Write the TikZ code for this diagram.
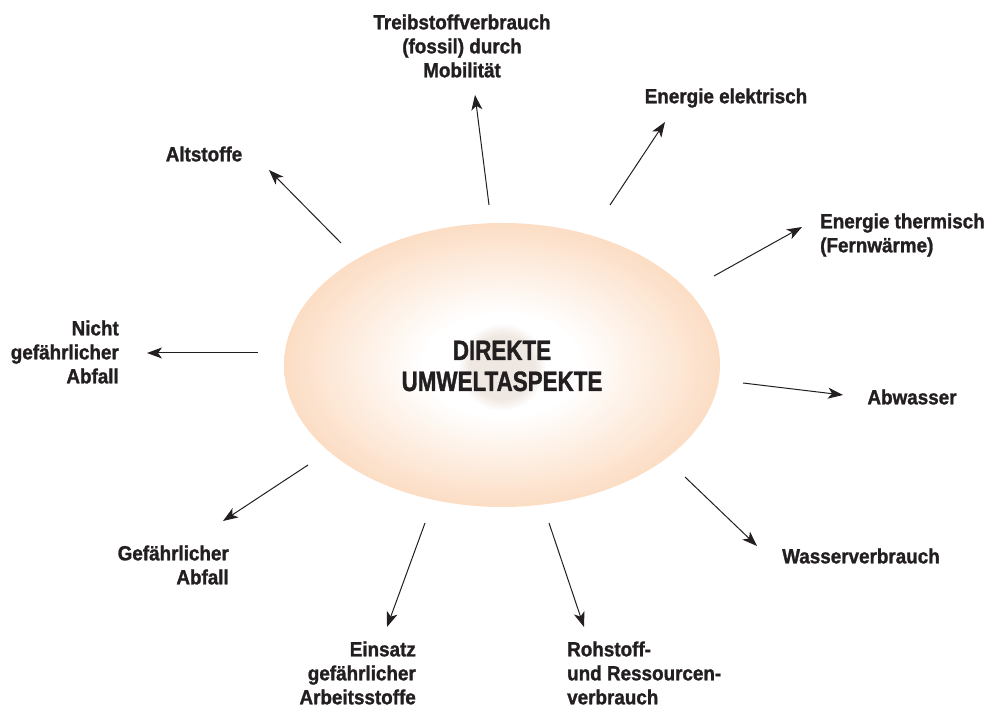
\documentclass[tikz,border=0pt]{standalone}
\usepackage{fontspec}
\setmainfont{Liberation Sans}
\newfontfamily\labfont[FakeStretch=0.92,FakeBold=1.3]{Liberation Sans Bold}
\newfontfamily\cenfont[FakeStretch=0.8,FakeBold=1.3]{Liberation Sans Bold}
\usetikzlibrary{arrows.meta}
\definecolor{peach}{RGB}{252,221,196}
\definecolor{inkc}{RGB}{35,31,32}
\definecolor{coregray}{RGB}{239,231,225}
\pgfdeclareradialshading{ellshade}{\pgfpoint{0bp}{0bp}}{color(0bp)=(white); color(9bp)=(white); color(25bp)=(peach); color(50bp)=(peach)}
\pgfdeclareradialshading{coreshade}{\pgfpoint{0bp}{0bp}}{color(0bp)=(coregray); color(18bp)=(coregray); color(25bp)=(white); color(50bp)=(white)}
\tikzset{
  lab/.style={font=\labfont\fontsize{20.5}{24}\selectfont, inner sep=0pt, text=inkc},
  arr/.style={line width=1pt, draw=inkc, -{Stealth[length=15pt,width=11pt,inset=4pt]}},
}
\begin{document}
\begin{tikzpicture}[x=1pt,y=-1pt]
\useasboundingbox (0,0) rectangle (991,711);
% ellipse
\path[shading=ellshade] (502,365) ellipse [x radius=218pt, y radius=142pt];
\path[shading=coreshade] (502,367) circle [radius=44pt];
\node[font=\cenfont\fontsize{28}{31}\selectfont, align=center, inner sep=0pt, text=inkc] (core) at (502,366) {DIREKTE\\UMWELTASPEKTE};

% labels
\node[lab, align=center] (treib) at (462,46) {Treibstoffverbrauch\\(fossil) durch\\Mobilität};
\node[lab] (elek) at (726,98) {Energie elektrisch};
\node[lab, align=left, anchor=west] (therm) at (820,235) {Energie thermisch\\(Fernwärme)};
\node[lab] (abw) at (912,397) {Abwasser};
\node[lab] (wasser) at (861,556) {Wasserverbrauch};
\node[lab, align=left, anchor=west] (roh) at (567,673) {Rohstoff-\\und Ressourcen-\\verbrauch};
\node[lab, align=right, anchor=east] (einsatz) at (416,673) {Einsatz\\gefährlicher\\Arbeitsstoffe};
\node[lab, align=right, anchor=east] (gef) at (229,565) {Gefährlicher\\Abfall};
\node[lab, align=right, anchor=east] (nicht) at (119,352) {Nicht\\gefährlicher\\Abfall};
\node[lab] (alt) at (204,154) {Altstoffe};

% arrow end points
\coordinate (s1) at (489,205);  \coordinate (t1) at (475,95);
\coordinate (s2) at (610,205);  \coordinate (t2) at (665,122);
\coordinate (s3) at (714,276);  \coordinate (t3) at (802,227);
\coordinate (s4) at (743,383);  \coordinate (t4) at (843,395);
\coordinate (s5) at (685,477);  \coordinate (t5) at (757,546);
\coordinate (s6) at (549,523);  \coordinate (t6) at (584,627);
\coordinate (s7) at (425,523);  \coordinate (t7) at (387,627);
\coordinate (s8) at (308,465);  \coordinate (t8) at (223,521);
\coordinate (s9) at (258,353);  \coordinate (t9) at (147,353);
\coordinate (s10) at (341,243); \coordinate (t10) at (269,170);

\foreach \i in {1,...,10} { \draw[arr] (s\i) -- (t\i); }
\end{tikzpicture}
\end{document}
